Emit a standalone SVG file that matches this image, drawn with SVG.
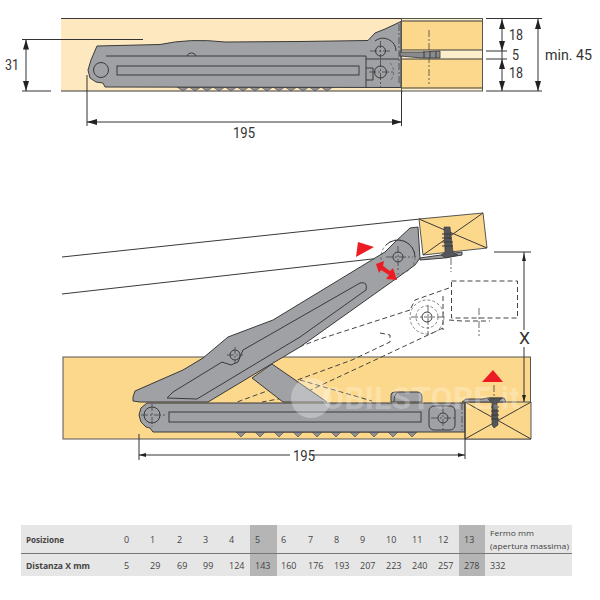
<svg xmlns="http://www.w3.org/2000/svg" width="600" height="600" viewBox="0 0 600 600">
<style>
.g{fill:#a0a1a5;stroke:#3a3a3a;stroke-width:1}
.n{fill:none;stroke:#3a3a3a;stroke-width:1}
.d{fill:none;stroke:#444;stroke-width:1;stroke-dasharray:5 3}
.f{fill:none;stroke:#555;stroke-width:.7;stroke-dasharray:3 2}
.c{fill:none;stroke:#444;stroke-width:.8;stroke-dasharray:7 2 2 2}
.dim{fill:none;stroke:#333;stroke-width:1}
.a{fill:#222}
.r{fill:#ec1c24}
.w{fill:#fcd88c;stroke:#555;stroke-width:1}
.t{font-family:"Roboto","Liberation Sans",sans-serif;fill:#333;font-size:15px}
.s{font-family:"Open Sans","Liberation Sans",sans-serif;fill:#444;font-size:9px}
.b{font-weight:700}
.m{font-size:8px}
</style>
<g id="upper-view">
<rect x="61" y="18.5" width="340" height="72.500" fill="#fde8bf"/>
<path d="M61 18.500H483M61 91H403" class="n"/>
<g id="upper-teeth" fill="#8f9094" stroke="#444" stroke-width=".6">
<path d="M177 87l6 4l6-4l6 4l6-4l6 4l6-4l6 4l6-4l6 4l6-4l6 4l6-4l6 4l6-4l6 4l6-4l6 4l6-4l6 4l6-4l6 4l6-4l6 4l6-4l6 4l6-4z"/>
</g>
<path class="g" d="M97 46L160 44.500Q190 38 225 42L300 41.500L368 40.500L375 33L385 29L401 21.500V87.500L105 87L103 83L96 82L90 78L88 70L91 60z"/>
<path class="n" d="M106 56H366V88M366 59H399M196 56a4.800 4.800 0 0 0-9 0"/>
<circle cx="101" cy="70" r="7.500" class="n"/>
<rect x="117" y="66" width="242" height="9" class="n"/>
<path class="n" d="M366 68h7v12h-7"/>
<circle cx="380.500" cy="51" r="5" class="n"/>
<circle cx="380.500" cy="72" r="6" class="n"/>
<path class="n" d="M375 41a13 13 0 0 1 21 10"/>
<path class="c" d="M370 51h21M380.500 41v18M369 72h24M380.500 60v27M399 24V85"/>
<path class="f" d="M390 63a13 13 0 0 1 0 18"/>
<rect x="401.500" y="18.500" width="81" height="72.500" fill="#fdeecb" stroke="#555"/>
<rect x="402" y="21" width="80" height="29" fill="#fcd88c"/>
<rect x="402" y="59" width="80" height="29" fill="#fcd88c"/>
<path class="n" d="M402 21H482M402 50H482M402 59H482M402 88H482"/>
<path class="c" d="M429 30V84"/>
<path fill="#8a8b8f" stroke="#333" stroke-width=".8" d="M400 52H422L440 51V58H422L400 56z"/>
<path class="n" d="M424 51v7M430 51v7M436 51v7"/>
</g>
<g id="upper-dimensions">
<path class="dim" d="M22 39.500H143M22 91H51M26 39.500V91M87 75V126M401.500 91V126M87 122H402"/>
<path class="dim" d="M486 18.500H542M486 91H542M486 51H507M486 59H507M502 19V91M538 19V91"/>
<path class="a" d="M26 39.500l-3 10h6zM26 91l-3-10h6zM87 122l10-3v6zM402 122l-10-3v6z"/>
<path class="a" d="M502 19l-3 10h6zM502 51l-3-10h6zM502 59l-3 10h6zM502 91l-3-10h6zM538 19l-3 10h6zM538 91l-3-10h6z"/>
<text class="t" x="5" y="70" textLength="14" lengthAdjust="spacingAndGlyphs">31</text>
<text class="t" x="233" y="138" textLength="22" lengthAdjust="spacingAndGlyphs">195</text>
<text class="t" x="509" y="40" textLength="14" lengthAdjust="spacingAndGlyphs">18</text>
<text class="t" x="512" y="60" textLength="7" lengthAdjust="spacingAndGlyphs">5</text>
<text class="t" x="509" y="78" textLength="14" lengthAdjust="spacingAndGlyphs">18</text>
<text class="t" x="545" y="60" textLength="47" lengthAdjust="spacingAndGlyphs">min. 45</text>
</g>
<g id="lower-view">
<path class="n" d="M62 257L420 219M62 294L381 258"/>
<rect x="63" y="357" width="467.500" height="82" fill="#fcd88c" stroke="#555"/>
<path class="d" d="M410 310L317 340L245 368M443 328L375 360L300 395L262 402M449 288L415 300L410 310M443 296V330M380 333L390 335L390 342L352 360L237 402M300 380L372 401"/>
<path class="g" d="M252 378L272 364L327 402H283z"/>
<g id="stop"><path class="g" d="M391 402v-7q0-3 4-3h22q5 0 5 5v5z"/><path class="n" d="M398 392q-4 2-4 10"/></g>
<g id="lower-teeth"><path fill="#8f9094" stroke="#444" stroke-width=".6" d="M236 432l5 5l5-5l9 0l5 5l5-5l9 0l5 5l5-5l9 0l5 5l5-5l9 0l5 5l5-5l9 0l5 5l5-5l9 0l5 5l5-5l9 0l5 5l5-5l9 0l5 5l5-5l9 0l5 5l5-5z"/></g>
<path class="g" d="M147 403H465V432H430L153 432L150 428L146 427L141 422L139 415L141 408z"/>
<rect x="169" y="412" width="252" height="10" class="n"/>
<circle cx="152" cy="415" r="8" class="n"/>
<path class="c" d="M141 415H166M152 404V427"/>
<rect x="429" y="406" width="26" height="24" rx="5" class="n"/>
<circle cx="443" cy="418" r="5" class="n"/>
<path class="c" d="M431 418H457M443 406V430M462 403V430"/>
<path class="g" d="M133 397L135 391L183 370L203 358L228 337L273 320L380 255L385 252L395 242L410 228L418 227L420 258L415 265L397 278L300 347L273 363L208 402H140L133 401z"/>
<path class="n" d="M167 398L173 392L222 362L231 365L238 362L243 350L360 283Q368 281 366 290L300 337L197 399z"/>
<circle cx="235" cy="355" r="5" class="n"/>
<path class="c" d="M227 355H243M235 347V363"/>
<circle cx="398" cy="257" r="17" class="f"/>
<circle cx="398" cy="257" r="5" class="n"/>
<path class="n" d="M386 245a17 17 0 0 1 29 12"/>
<path class="c" d="M386 257H413M398 246V270"/>
<circle cx="427" cy="317" r="17" class="f"/>
<circle cx="427" cy="317" r="11" class="f"/>
<circle cx="427" cy="317" r="5" class="n"/>
<path class="c" d="M411 317H445M428 305V335M479 308V336"/>
<rect x="451.500" y="281" width="66" height="37" class="d" stroke-width="1.200"/>
<path class="d" d="M449 320L462 321H490"/>
<path class="w" d="M419 219L483 213L487 248L423 255z"/>
<path class="n" d="M419 219L487 248M483 213L423 255"/>
<path class="g" d="M420 258L462 252V255L444 258L420 260z"/>
<path fill="#55565a" stroke="#333" stroke-width=".6" d="M444 227H450L453 252L458 255L446 258L441 255L445 252z"/>
<path class="n" d="M442 234H452M442 238H452M442 242H453M442 246H453"/>
<path class="c" d="M451 258V272"/>
<path class="r" d="M358 242L374 247L356 257z"/>
<path class="r" d="M376 264L384 261L383 266L390 271L393 268L397 280L386 279L389 275L381 270L379 273z"/>
<path class="w" d="M465 402H531V439H465z"/>
<path class="n" d="M465 402L531 439M531 402L465 439"/>
<path class="g" d="M462 402L466 399H482L488 398H504L506 402z"/>
<path fill="#55565a" stroke="#333" stroke-width=".6" d="M487 398H502L497 403L498 425L494 428L492 425V403z"/>
<path class="n" d="M491 407H499M491 411H499M491 415H499M491 419H499"/>
<path class="c" d="M494 385V400"/>
<path class="r" d="M493 370L482 382H503z"/>
<circle cx="311" cy="398" r="20" fill="#fff" fill-opacity=".3"/>
<text x="322" y="409" font-family="Roboto, 'Liberation Sans', sans-serif" font-size="32" font-weight="700" fill="#fff" fill-opacity=".25" textLength="198" lengthAdjust="spacingAndGlyphs">OBILSTORE.it</text>
</g>
<g id="lower-dimensions">
<path class="dim" d="M494 252H531M524 252V330M524 347V402M139 434V460M465 402V459M139 455H290M312 455H465"/>
<path class="a" d="M524 253l-2 8h4zM524 402l-2-7h4zM139 455l7-2v4zM465 455l-7-2v4z"/>
<text class="t" x="519" y="344" style="font-size:17px" textLength="11" lengthAdjust="spacingAndGlyphs">X</text>
<text class="t" x="293" y="461" textLength="22" lengthAdjust="spacingAndGlyphs">195</text>
</g>
<g id="table">
<rect x="21" y="525" width="551" height="51" fill="#e6e6e6"/>
<rect x="250" y="525" width="27" height="51" fill="#b5b5b5"/>
<rect x="459" y="525" width="26" height="51" fill="#b5b5b5"/>
<path d="M21 553.500H572" stroke="#777" stroke-width="1"/>
<g class="s">
<text class="b" x="26" y="543" textLength="38" lengthAdjust="spacingAndGlyphs">Posizione</text>
<text class="b" x="26" y="569" textLength="64" lengthAdjust="spacingAndGlyphs">Distanza X mm</text>
<text x="124" y="543">0</text><text x="150" y="543">1</text><text x="177" y="543">2</text><text x="203" y="543">3</text><text x="229" y="543">4</text><text x="255" y="543">5</text><text x="281" y="543">6</text><text x="308" y="543">7</text><text x="334" y="543">8</text><text x="360" y="543">9</text><text x="386" y="543">10</text><text x="412" y="543">11</text><text x="438" y="543">12</text><text x="464" y="543">13</text>
<text class="m" x="490" y="536" textLength="44" lengthAdjust="spacingAndGlyphs">Fermo mm</text>
<text class="m" x="490" y="549" textLength="79" lengthAdjust="spacingAndGlyphs">(apertura massima)</text>
<text x="124" y="569">5</text><text x="150" y="569">29</text><text x="177" y="569">69</text><text x="203" y="569">99</text><text x="229" y="569">124</text><text x="255" y="569">143</text><text x="281" y="569">160</text><text x="308" y="569">176</text><text x="334" y="569">193</text><text x="360" y="569">207</text><text x="386" y="569">223</text><text x="412" y="569">240</text><text x="438" y="569">257</text><text x="464" y="569">278</text><text x="490" y="569">332</text>
</g>
</g>
</svg>
